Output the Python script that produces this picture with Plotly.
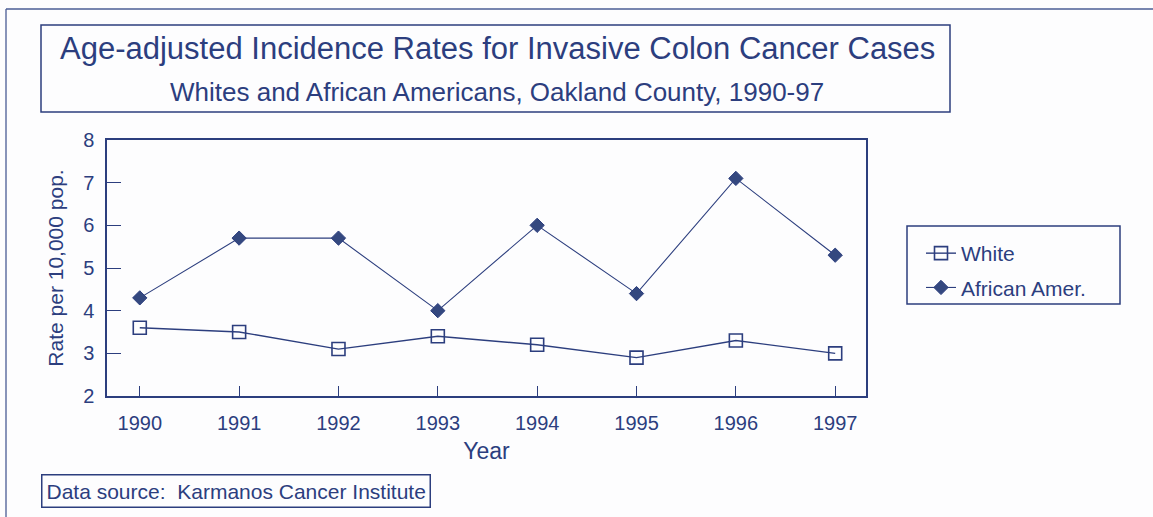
import plotly.graph_objects as go

years = [1990, 1991, 1992, 1993, 1994, 1995, 1996, 1997]
white = [3.6, 3.5, 3.1, 3.4, 3.2, 2.9, 3.3, 3.0]
african = [4.3, 5.7, 5.7, 4.0, 6.0, 4.4, 7.1, 5.3]
y_ticks = [2, 3, 4, 5, 6, 7, 8]

NAVY = "#2c3e7e"
FONT = "Liberation Sans, Arial, sans-serif"

W, H = 1153, 517
L, R, T, B = 107, 866, 140, 396


def xp(px):
    return (px - L) / (R - L)


def yp(py):
    return (B - py) / (B - T)


fig = go.Figure()
fig.add_trace(go.Scatter(
    x=years, y=white, name="White", mode="lines+markers",
    line=dict(color=NAVY, width=1.4),
    marker=dict(symbol="square-open", size=13, color=NAVY, line=dict(width=1.6, color=NAVY)),
    legendgroup="a",
))
fig.add_trace(go.Scatter(
    x=years, y=african, name="African Amer.", mode="lines+markers",
    line=dict(color=NAVY, width=1.1),
    marker=dict(symbol="diamond", size=11, color="#34487f", line=dict(width=1, color=NAVY)),
    legendgroup="b",
))

fig.update_layout(
    width=W, height=H,
    margin=dict(l=L, r=W - R, t=T, b=H - B, pad=0),
    paper_bgcolor="#fdfdfe", plot_bgcolor="#fdfdfe",
    font=dict(family=FONT, color=NAVY, size=20),
    showlegend=True,
    legend=dict(
        x=xp(921), y=yp(233), xanchor="left", yanchor="top",
        borderwidth=0, bgcolor="rgba(0,0,0,0)",
        font=dict(size=21, color=NAVY, family=FONT),
        tracegroupgap=4, itemwidth=30,
    ),
    xaxis=dict(
        range=[1989.67, 1997.31], tickvals=years, ticktext=[str(y) for y in years],
        ticks="inside", ticklen=10, tickwidth=1.3, tickcolor=NAVY,
        showline=True, linecolor=NAVY, linewidth=1.5, mirror=True,
        showgrid=False, zeroline=False, ticklabelstandoff=8,
        tickfont=dict(size=20, color=NAVY),
        title=dict(text="Year", font=dict(size=23, color=NAVY), standoff=10),
    ),
    yaxis=dict(
        range=[2, 8], tickvals=y_ticks,
        ticks="inside", ticklen=14, tickwidth=1.3, tickcolor=NAVY,
        showline=True, linecolor=NAVY, linewidth=1.5, mirror=True,
        showgrid=False, zeroline=False, ticklabelstandoff=7,
        tickfont=dict(size=20, color=NAVY),
        title=dict(text="Rate per 10,000 pop.", font=dict(size=21, color=NAVY), standoff=14),
    ),
)

shapes = [
    # title box
    dict(type="rect", xref="paper", yref="paper", x0=xp(41), x1=xp(950), y0=yp(112), y1=yp(25),
         line=dict(color=NAVY, width=1.5)),
    # legend box
    dict(type="rect", xref="paper", yref="paper", x0=xp(907), x1=xp(1120), y0=yp(304), y1=yp(226),
         line=dict(color=NAVY, width=1.5)),
    # outer frame (top and left edges)
    dict(type="line", xref="paper", yref="paper", x0=xp(6), x1=xp(1153), y0=yp(9), y1=yp(9),
         line=dict(color="#4a5c94", width=1.3)),
    dict(type="line", xref="paper", yref="paper", x0=xp(6), x1=xp(6), y0=yp(9), y1=yp(517),
         line=dict(color="#4a5c94", width=1.3)),
]
fig.update_layout(shapes=shapes)

fig.add_annotation(
    text="Age-adjusted Incidence Rates for Invasive Colon Cancer Cases",
    xref="paper", yref="paper", x=xp(497), y=yp(48), xanchor="center", yanchor="middle",
    showarrow=False, font=dict(size=31, color=NAVY, family=FONT),
)
fig.add_annotation(
    text="Whites and African Americans, Oakland County, 1990-97",
    xref="paper", yref="paper", x=xp(497), y=yp(92), xanchor="center", yanchor="middle",
    showarrow=False, font=dict(size=26, color=NAVY, family=FONT),
)
fig.add_annotation(
    text="Data source:  Karmanos Cancer Institute",
    xref="paper", yref="paper", x=xp(41), y=yp(491), xanchor="left", yanchor="middle",
    showarrow=False, font=dict(size=21, color=NAVY, family=FONT),
    bordercolor=NAVY, borderwidth=1.5, borderpad=4,
)

fig.write_html("out.html")
